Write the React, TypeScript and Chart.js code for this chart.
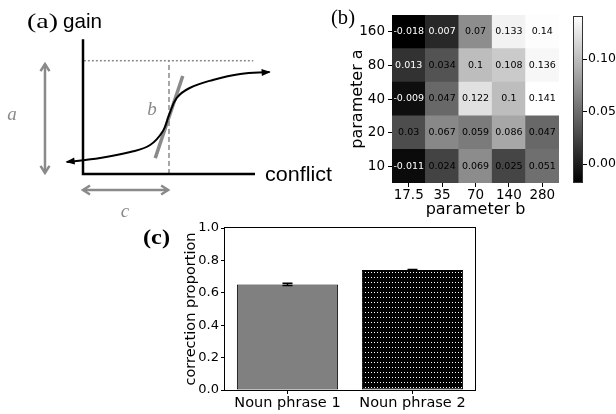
import React, { useEffect, useRef } from 'react';
import { Chart, registerables } from 'chart.js';

Chart.register(...registerables);
Chart.defaults.font.family = "'DejaVu Sans', sans-serif";
Chart.defaults.color = '#000';

// ---------- Panel (a): schematic gain curve ----------
const curveConflict = [-0.19, 0.2, 0.55, 0.78, 0.93, 1.0, 1.09, 1.24, 1.51, 1.83, 2.17];
const curveGain = [0.106, 0.141, 0.194, 0.256, 0.38, 0.52, 0.671, 0.759, 0.83, 0.883, 0.9];
const tangentConflict = [0.84, 1.16];
const tangentGain = [0.14, 0.865];
const asymptoteConflict = [0.01, 1.98];
const asymptoteGain = [1, 1];
const midConflict = [1, 1];
const midGain = [0, 1];
const axisConflict = [0, 0, 2.0];
const axisGain = [1.19, 0, 0];
const aArrowConflict = [-0.442, -0.442];
const aArrowGain = [0.97, 0.01];
const cArrowConflict = [0, 0.99];
const cArrowGain = [-0.141, -0.141];

// ---------- Panel (b): heatmap ----------
const paramB = ['17.5', '35', '70', '140', '280'];
const paramA = ['10', '20', '40', '80', '160'];
const rowA10 = [-0.011, 0.024, 0.069, 0.025, 0.051];
const rowA20 = [0.03, 0.067, 0.059, 0.086, 0.047];
const rowA40 = [-0.009, 0.047, 0.122, 0.1, 0.141];
const rowA80 = [0.013, 0.034, 0.1, 0.108, 0.136];
const rowA160 = [-0.018, 0.007, 0.07, 0.133, 0.14];
const heatRows = [rowA10, rowA20, rowA40, rowA80, rowA160];
const colorMin = -0.018;
const colorMax = 0.141;
const colorbarTicks = [0, 0.05, 0.1];

// ---------- Panel (c): bar chart ----------
const phrases = ['Noun phrase 1', 'Noun phrase 2'];
const proportion = [0.652, 0.741];
const proportionErr = [0.007, 0.003];
const proportionTicks = [0, 0.2, 0.4, 0.6, 0.8, 1.0];

const GRAY = '#8a8a8a';
const FONT = "'DejaVu Sans', sans-serif";

function pts(xs: number[], ys: number[]) {
  return xs.map((x, i) => ({ x, y: ys[i] }));
}

function fitText(ctx: CanvasRenderingContext2D, text: string, x: number, y: number, width: number, font: string, color: string) {
  ctx.save();
  ctx.font = font;
  ctx.fillStyle = color;
  ctx.textAlign = 'left';
  ctx.textBaseline = 'alphabetic';
  const w = ctx.measureText(text).width || 1;
  ctx.translate(x, y);
  ctx.scale(width / w, 1);
  ctx.fillText(text, 0, 0);
  ctx.restore();
}

function centerText(ctx: CanvasRenderingContext2D, text: string, x: number, y: number, font: string, color: string) {
  ctx.save();
  ctx.font = font;
  ctx.fillStyle = color;
  ctx.textAlign = 'center';
  ctx.textBaseline = 'middle';
  ctx.fillText(text, x, y);
  ctx.restore();
}

function arrowHead(ctx: CanvasRenderingContext2D, tip: any, from: any, style: string, color: string, len: number, half: number, lw: number) {
  const dx = tip.x - from.x;
  const dy = tip.y - from.y;
  const d = Math.hypot(dx, dy) || 1;
  const ux = dx / d, uy = dy / d;
  const nx = -uy, ny = ux;
  const bx = tip.x - ux * len, by = tip.y - uy * len;
  ctx.save();
  if (style === 'filled') {
    ctx.fillStyle = color;
    ctx.beginPath();
    ctx.moveTo(tip.x + ux * 1, tip.y + uy * 1);
    ctx.lineTo(bx + nx * half, by + ny * half);
    ctx.lineTo(bx - nx * half, by - ny * half);
    ctx.closePath();
    ctx.fill();
  } else {
    ctx.strokeStyle = color;
    ctx.lineWidth = lw;
    ctx.lineJoin = 'miter';
    ctx.lineCap = 'butt';
    ctx.beginPath();
    ctx.moveTo(bx + nx * half, by + ny * half);
    ctx.lineTo(tip.x, tip.y);
    ctx.lineTo(bx - nx * half, by - ny * half);
    ctx.stroke();
  }
  ctx.restore();
}

function lineDs(xs: number[], ys: number[], color: string, width: number, dash: number[] = []) {
  return {
    data: pts(xs, ys),
    showLine: true,
    borderColor: color,
    borderWidth: width,
    borderDash: dash,
    borderCapStyle: 'butt',
    borderJoinStyle: 'miter',
    pointRadius: 0,
    fill: false,
  };
}

const schematicArrows = [
  { ds: 0, style: 'filled', color: '#000' },
  { ds: 5, style: 'open', color: GRAY },
  { ds: 6, style: 'open', color: GRAY },
];

function makeSchematic(): any {
  const W = 336, H = 225;
  const ox = 83, oy = 174, px = 86, py = 113.3;
  const arrowPlugin = {
    id: 'arrows',
    afterDatasetsDraw(chart: any) {
      const ctx = chart.ctx;
      for (const s of schematicArrows) {
        const el = chart.getDatasetMeta(s.ds).data;
        const n = el.length;
        if (s.style === 'filled') {
          arrowHead(ctx, el[0], el[1], 'filled', s.color, 8, 3.5, 0);
          arrowHead(ctx, el[n - 1], el[n - 2], 'filled', s.color, 8, 3.5, 0);
        } else {
          arrowHead(ctx, el[0], el[1], 'open', s.color, 7, 4.5, 2.5);
          arrowHead(ctx, el[n - 1], el[n - 2], 'open', s.color, 7, 4.5, 2.5);
        }
      }
    },
  };
  const textPlugin = {
    id: 'schematicText',
    afterDraw(chart: any) {
      const ctx = chart.ctx;
      fitText(ctx, '(a)', 27, 28, 31, "21px 'Liberation Serif', serif", '#000');
      fitText(ctx, 'gain', 63, 28, 39, "21px 'Liberation Sans', sans-serif", '#000');
      fitText(ctx, 'conflict', 265, 181, 67, "21px 'Liberation Sans', sans-serif", '#000');
      centerText(ctx, 'a', 12, 115, "italic 19px 'Liberation Serif', serif", GRAY);
      centerText(ctx, 'b', 152, 110, "italic 19px 'Liberation Serif', serif", GRAY);
      centerText(ctx, 'c', 125, 212, "italic 19px 'Liberation Serif', serif", GRAY);
    },
  };
  return {
    type: 'scatter',
    data: {
      datasets: [
        { ...lineDs(curveConflict, curveGain, '#000', 2), tension: 0.4 },
        lineDs(axisConflict, axisGain, '#000', 2.5),
        lineDs(asymptoteConflict, asymptoteGain, GRAY, 1.5, [2, 2]),
        lineDs(midConflict, midGain, GRAY, 1.5, [5, 3]),
        lineDs(tangentConflict, tangentGain, GRAY, 3.5),
        lineDs(aArrowConflict, aArrowGain, GRAY, 2.5),
        lineDs(cArrowConflict, cArrowGain, GRAY, 2.5),
      ],
    },
    options: {
      responsive: false,
      animation: false,
      events: [],
      layout: { padding: 0 },
      plugins: { legend: { display: false }, tooltip: { enabled: false } },
      scales: {
        x: { type: 'linear', display: false, min: -ox / px, max: (W - ox) / px },
        y: { type: 'linear', display: false, min: -(H - oy) / py, max: oy / py },
      },
    },
    plugins: [arrowPlugin, textPlugin],
  };
}

function norm(v: number) {
  return Math.max(0, Math.min(1, (v - colorMin) / (colorMax - colorMin)));
}
function cellColor(v: number) {
  const g = Math.round(norm(v) * 255);
  return `rgb(${g},${g},${g})`;
}

function makeHeatmap(): any {
  const annotPlugin = {
    id: 'annot',
    afterDatasetsDraw(chart: any) {
      const ctx = chart.ctx;
      ctx.save();
      ctx.font = `9.5px ${FONT}`;
      ctx.textAlign = 'center';
      ctx.textBaseline = 'middle';
      heatRows.forEach((row, i) => {
        const meta = chart.getDatasetMeta(i);
        row.forEach((v, j) => {
          const el: any = meta.data[j];
          ctx.fillStyle = norm(v) < 0.23 ? '#fff' : '#000';
          ctx.fillText(String(v), el.x, (el.y + el.base) / 2);
        });
      });
      ctx.restore();
    },
  };
  const labelPlugin = {
    id: 'panelB',
    afterDraw(chart: any) {
      fitText(chart.ctx, '(b)', 6, 24, 24, "21px 'Liberation Serif', serif", '#000');
    },
  };
  return {
    type: 'bar',
    data: {
      labels: paramB,
      datasets: heatRows.map((row, i) => ({
        label: paramA[i],
        data: row.map(() => 1),
        backgroundColor: row.map(cellColor),
        borderWidth: 0,
        barPercentage: 1,
        categoryPercentage: 1,
      })),
    },
    options: {
      responsive: false,
      animation: false,
      events: [],
      layout: { padding: { left: 0, top: 15, right: 6, bottom: 0 } },
      plugins: { legend: { display: false }, tooltip: { enabled: false } },
      scales: {
        x: {
          stacked: true,
          grid: { display: true, drawOnChartArea: false, offset: false, tickLength: 4, color: '#000' },
          border: { display: false },
          ticks: { font: { size: 13.5 }, color: '#000', padding: 0, maxRotation: 0 },
          title: { display: true, text: 'parameter b', font: { size: 16 }, color: '#000', padding: { top: 0, bottom: 0.4 } },
          afterFit: (s: any) => { s.height = 37; },
        },
        y: {
          stacked: true,
          min: 0,
          max: 5,
          afterBuildTicks: (s: any) => { s.ticks = paramA.map((_, i) => ({ value: i + 0.5 })); },
          ticks: { callback: (v: any) => paramA[Math.floor(v)], font: { size: 13.5 }, color: '#000', padding: 3 },
          grid: { display: true, drawOnChartArea: false, tickLength: 4, color: '#000' },
          border: { display: false },
          title: { display: true, text: 'parameter a', font: { size: 16 }, color: '#000', padding: { top: 23.4, bottom: 0 } },
          afterFit: (s: any) => { s.width = 67; },
        },
      },
    },
    plugins: [annotPlugin, labelPlugin],
  };
}

function makeColorbar(): any {
  return {
    type: 'bar',
    data: {
      labels: [''],
      datasets: [{
        data: [[colorMin, colorMax]],
        backgroundColor: (c: any) => {
          const area = c.chart.chartArea;
          if (!area) return '#888';
          const g = c.chart.ctx.createLinearGradient(0, area.bottom, 0, area.top);
          g.addColorStop(0, '#000');
          g.addColorStop(1, '#fff');
          return g;
        },
        borderColor: '#333',
        borderWidth: 1,
        borderSkipped: false,
        inflateAmount: 0,
        barPercentage: 1,
        categoryPercentage: 1,
      }],
    },
    options: {
      responsive: false,
      animation: false,
      events: [],
      layout: { padding: { left: 8, top: 16, right: 0, bottom: 37 } },
      plugins: { legend: { display: false }, tooltip: { enabled: false } },
      scales: {
        x: { display: false },
        y: {
          position: 'right',
          min: colorMin,
          max: colorMax,
          afterBuildTicks: (s: any) => { s.ticks = colorbarTicks.map((v) => ({ value: v })); },
          ticks: { callback: (v: any) => Number(v).toFixed(2), font: { size: 12.5 }, color: '#000', padding: 1 },
          grid: { display: true, drawOnChartArea: false, tickLength: 4, color: '#000' },
          border: { display: false },
          afterFit: (s: any) => { s.width = 33; },
        },
      },
    },
  };
}

function makeBars(): any {
  const pc = document.createElement('canvas');
  pc.width = 3;
  pc.height = 5;
  const pg = pc.getContext('2d')!;
  pg.fillStyle = '#000';
  pg.fillRect(0, 0, 3, 5);
  pg.fillStyle = '#fff';
  pg.fillRect(1, 2, 1, 1);
  const dots = pg.createPattern(pc, 'repeat');

  const errPlugin = {
    id: 'errbars',
    afterDatasetsDraw(chart: any) {
      const ctx = chart.ctx;
      const ys = chart.scales.y;
      const meta = chart.getDatasetMeta(0);
      ctx.save();
      ctx.strokeStyle = '#000';
      ctx.lineWidth = 1.5;
      proportion.forEach((v, i) => {
        const x = meta.data[i].x;
        const t = ys.getPixelForValue(v + proportionErr[i]);
        const b = ys.getPixelForValue(v - proportionErr[i]);
        ctx.beginPath();
        ctx.moveTo(x, t); ctx.lineTo(x, b);
        ctx.moveTo(x - 5, t); ctx.lineTo(x + 5, t);
        ctx.moveTo(x - 5, b); ctx.lineTo(x + 5, b);
        ctx.stroke();
      });
      ctx.restore();
    },
  };
  const framePlugin = {
    id: 'frame',
    afterDraw(chart: any) {
      const ctx = chart.ctx;
      const a = chart.chartArea;
      ctx.save();
      ctx.strokeStyle = '#000';
      ctx.lineWidth = 1;
      ctx.strokeRect(Math.round(a.left) - 0.5, Math.round(a.top) - 0.5, Math.round(a.right - a.left) + 1, Math.round(a.bottom - a.top) + 1);
      ctx.restore();
      fitText(ctx, '(c)', 13, 29, 27, "bold 20px 'Liberation Serif', serif", '#000');
    },
  };
  return {
    type: 'bar',
    data: {
      labels: phrases,
      datasets: [{
        data: proportion,
        backgroundColor: ['#808080', dots],
        borderColor: '#000',
        borderWidth: 1,
        borderSkipped: false,
        barPercentage: 0.81,
        categoryPercentage: 1,
      }],
    },
    options: {
      responsive: false,
      animation: false,
      events: [],
      layout: { padding: { left: 45, top: 13, right: 15, bottom: 0 } },
      plugins: { legend: { display: false }, tooltip: { enabled: false } },
      scales: {
        x: {
          grid: { display: true, drawOnChartArea: false, offset: false, tickLength: 4, color: '#000' },
          border: { display: false },
          ticks: { font: { size: 14.5 }, color: '#000', padding: 1, maxRotation: 0 },
          afterFit: (s: any) => { s.height = 24; },
        },
        y: {
          min: 0,
          max: 1,
          afterBuildTicks: (s: any) => { s.ticks = proportionTicks.map((v) => ({ value: v })); },
          ticks: { callback: (v: any) => Number(v).toFixed(1), font: { size: 13 }, color: '#000', padding: 2 },
          grid: { display: true, drawOnChartArea: false, tickLength: 4, color: '#000' },
          border: { display: false },
          title: { display: true, text: 'correction proportion', font: { size: 14.5 }, color: '#000', padding: { top: 7.3, bottom: 0 } },
          afterFit: (s: any) => { s.width = 50; },
        },
      },
    },
    plugins: [errPlugin, framePlugin],
  };
}

function ChartBox({ left, top, width, height, make }: { left: number; top: number; width: number; height: number; make: () => any }) {
  const ref = useRef<HTMLCanvasElement>(null);
  useEffect(() => {
    const chart = new Chart(ref.current as HTMLCanvasElement, make());
    return () => chart.destroy();
  }, []);
  return (
    <div style={{ position: 'absolute', left, top, width, height }}>
      <canvas ref={ref} width={width} height={height} style={{ display: 'block', width, height }} />
    </div>
  );
}

export default function App() {
  return (
    <div style={{ position: 'absolute', left: 0, top: 0, width: 616, height: 414, background: '#fff', overflow: 'hidden' }}>
      <ChartBox left={0} top={0} width={336} height={225} make={makeSchematic} />
      <ChartBox left={325} top={0} width={240} height={220} make={makeHeatmap} />
      <ChartBox left={565} top={0} width={51} height={220} make={makeColorbar} />
      <ChartBox left={130} top={215} width={360} height={199} make={makeBars} />
    </div>
  );
}
